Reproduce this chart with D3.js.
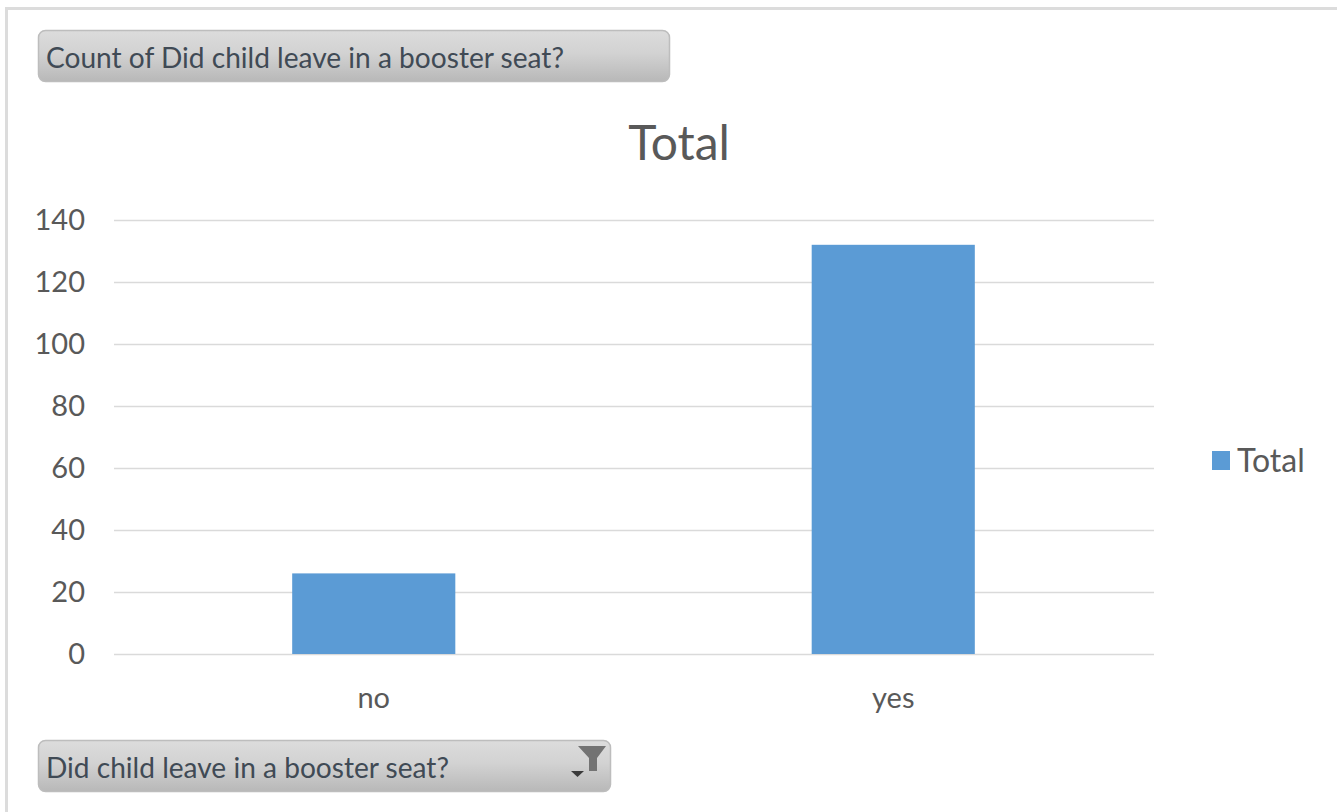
<!DOCTYPE html>
<html>
<head>
<meta charset="utf-8">
<script src="https://cdnjs.cloudflare.com/ajax/libs/d3/7.8.5/d3.min.js"></script>
<style>
html,body{margin:0;padding:0;background:#fff;overflow:hidden}
svg{display:block}
text{font-family:Lato,"Noto Sans",sans-serif}
</style>
</head>
<body>
<svg id="c" width="1337" height="812"></svg>
<script>
const categories = ["no", "yes"];
const values = [26, 132];
const yTicks = [0, 20, 40, 60, 80, 100, 120, 140];
const chartTitle = "Total";
const legendLabel = "Total";
const valueButton = "Count of Did child leave in a booster seat?";
const axisButton = "Did child leave in a booster seat?";

const svg = d3.select("#c");
const defs = svg.append("defs");
const g = defs.append("linearGradient").attr("id","btn").attr("x1",0).attr("y1",0).attr("x2",0).attr("y2",1);
g.append("stop").attr("offset","0%").attr("stop-color","#dcdcdc");
g.append("stop").attr("offset","45%").attr("stop-color","#d2d2d2");
g.append("stop").attr("offset","100%").attr("stop-color","#b8b8b8");

// outer frame
svg.append("rect").attr("x",0).attr("y",0).attr("width",1337).attr("height",812).attr("fill","#fff");
svg.append("rect").attr("x",5).attr("y",7).attr("width",1332).attr("height",3).attr("fill","#dcdcdc");
svg.append("rect").attr("x",5).attr("y",7).attr("width",3).attr("height",805).attr("fill","#dcdcdc");

const x = d3.scaleBand().domain(categories).range([114,1153]).paddingInner(0.686).paddingOuter(0.343);
const y = d3.scaleLinear().domain([0,140]).range([654,220]);

// title
svg.append("text").attr("x",679).attr("y",160).attr("text-anchor","middle")
  .attr("font-size",48).attr("fill","#595959").text(chartTitle);

// y axis
const yAxis = d3.axisLeft(y).tickValues(yTicks).tickSize(-(1154-114)).tickPadding(29);
const ya = svg.append("g").attr("transform","translate(114,0)").call(yAxis);
ya.select(".domain").remove();
ya.selectAll(".tick line").attr("stroke","#dadada").attr("stroke-width",1.5);
ya.selectAll(".tick text").attr("x",-29).attr("font-size",29).attr("fill","#595959")
  .attr("dy","0.34em");

// bars
svg.append("g").selectAll("rect").data(categories).join("rect")
  .attr("x",d=>x(d)).attr("width",x.bandwidth())
  .attr("y",(d,i)=>y(values[i])).attr("height",(d,i)=>y(0)-y(values[i]))
  .attr("fill","#5b9bd5");

// x axis
const xAxis = d3.axisBottom(x).tickSize(0).tickPadding(33);
const xa = svg.append("g").attr("transform","translate(0,654)").call(xAxis);
xa.select(".domain").remove();
xa.selectAll(".tick text").attr("font-size",29).attr("fill","#595959");

// legend
svg.append("rect").attr("x",1212).attr("y",451).attr("width",18).attr("height",19).attr("fill","#5b9bd5");
svg.append("text").attr("x",1237).attr("y",472).attr("font-size",32).attr("fill","#595959").text(legendLabel);

// field buttons
function button(bx,by,w,h,label){
  svg.append("rect").attr("x",bx).attr("y",by).attr("width",w).attr("height",h).attr("rx",7)
    .attr("fill","url(#btn)").attr("stroke","#bdbdbd").attr("stroke-width",1.5);
  svg.append("text").attr("x",bx+7.5).attr("y",by+37).attr("font-size",28.1).attr("fill","#404a55").text(label);
}
button(38.5,30.5,631,51,valueButton);
button(38.5,740.5,572,51,axisButton);

// filter + dropdown icons
const line = d3.line();
svg.append("path").attr("d",line([[578,746],[606,746],[597,758],[597,771],[589,771],[589,758]])+"Z").attr("fill","#737373");
svg.append("path").attr("d",line([[571,771],[584,771],[577.5,777]])+"Z").attr("fill","#3a3a3a");
</script>
</body>
</html>
